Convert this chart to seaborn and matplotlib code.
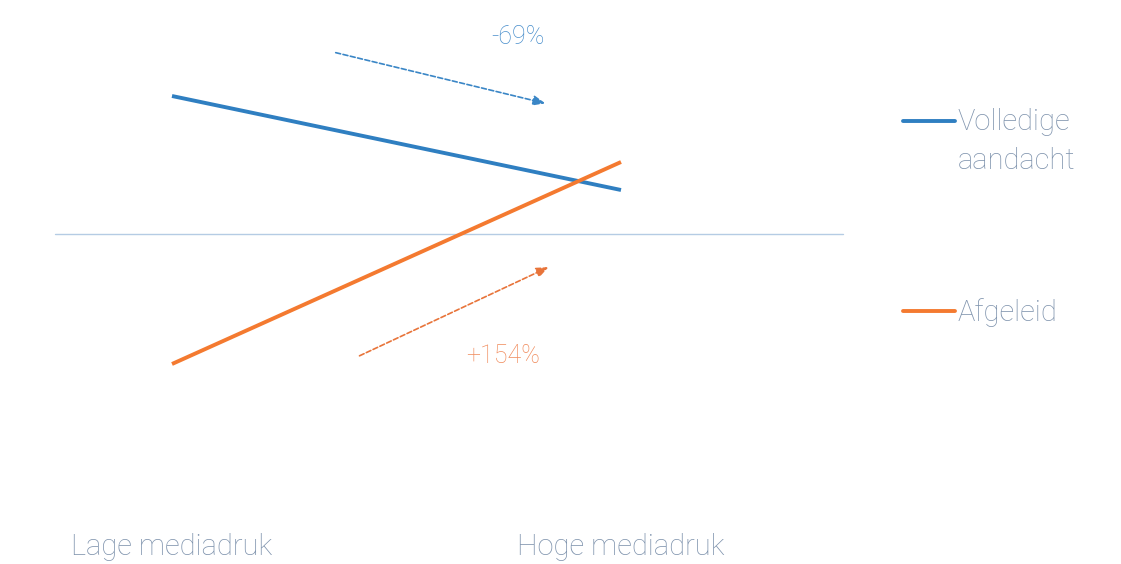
import matplotlib
matplotlib.use("Agg")
import matplotlib.pyplot as plt
import seaborn as sns
import pandas as pd
from matplotlib.lines import Line2D

sns.set_theme(style="white")
plt.rcParams['font.family'] = ['Roboto', 'DejaVu Sans']

categories = ["Lage mediadruk", "Hoge mediadruk"]
series = ["Volledige\naandacht", "Afgeleid"]
volledig = [1.38, 0.44]
afgeleid = [-1.30, 0.72]
changes = ["-69%", "+154%"]

blue = "#2f7fc1"
orange = "#f47a30"
palette = {series[0]: blue, series[1]: orange}

df = pd.DataFrame({
    "x": [0, 1, 0, 1],
    "value": volledig + afgeleid,
    "series": [series[0]] * 2 + [series[1]] * 2,
})

W, H = 1121, 564
fig = plt.figure(figsize=(W / 100, H / 100), dpi=100)
ax = fig.add_axes([0, 34 / H, 1, 530 / H])

sns.lineplot(data=df, x="x", y="value", hue="series", palette=palette,
             linewidth=2.8, ax=ax, legend=False, solid_capstyle="butt")

ax.set_xlim(-172 / 449, (1121 - 172) / 449)
ax.set_ylim((234 - 530) / 100, 2.34)

# baseline
ax.plot([-0.2606, 1.494], [0, 0], color="#b5cce4", linewidth=1.0, zorder=0)

# change arrows
ax.annotate("", xy=(0.8374, 1.30), xytext=(0.3586, 1.82),
            arrowprops=dict(arrowstyle="-|>,head_length=0.6,head_width=0.25",
                            color="#3a86c6", lw=1.2, linestyle=(0, (3, 1.5))))
ax.annotate("", xy=(0.844, -0.32), xytext=(0.412, -1.23),
            arrowprops=dict(arrowstyle="-|>,head_length=0.6,head_width=0.25",
                            color="#e8743a", lw=1.2, linestyle=(0, (3, 1.5))))
ax.text(0.7706, 1.97, changes[0], color="#4a8fcc", fontsize=18,
        ha="center", va="center", fontweight="light")
ax.text(0.737, -1.22, changes[1], color="#f08a5a", fontsize=18,
        ha="center", va="center", fontweight="light")

ax.set_xticks([0, 1])
ax.set_xticklabels(categories, color="#7f93ad", fontsize=21, fontweight="light")
ax.tick_params(axis="x", length=0, pad=2)
ax.set_yticks([])
ax.set_xlabel("")
ax.set_ylabel("")
for s in ax.spines.values():
    s.set_visible(False)

# legend
for yy, name, col in [(121, series[0], blue), (311, series[1], orange)]:
    fig.add_artist(Line2D([903 / W, 955 / W], [1 - yy / H, 1 - yy / H],
                          color=col, linewidth=2.8, transform=fig.transFigure))
    fig.text(958 / W, 1 - (yy - 13) / H, name, color="#7f93ad", fontsize=21,
             ha="left", va="top", linespacing=1.5, fontweight="light")

fig.savefig("out.png", dpi=100)
